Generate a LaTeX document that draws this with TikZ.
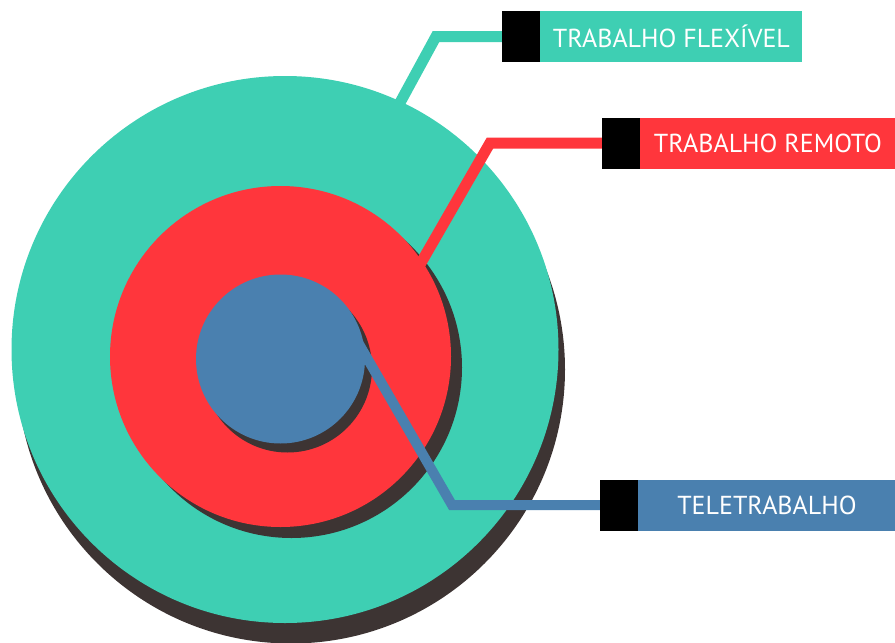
\documentclass[tikz,border=0pt]{standalone}
\usepackage{fontspec}
\setmainfont{PT Sans}
\usetikzlibrary{calc,positioning}
\definecolor{FlexTeal}{HTML}{3ECFB3}
\definecolor{RemotoRed}{HTML}{FF363C}
\definecolor{TeleBlue}{HTML}{4A80AF}
\definecolor{RingShadow}{HTML}{3D3433}
\tikzset{
  ring/.style={
    circle,
    draw=none,
    inner sep=0pt
  },
  ring shadow/.style={ring,fill=RingShadow},
  tag box/.style={
    fill=black,
    minimum width=38pt,
    minimum height=51pt,
    inner sep=0pt
  },
  label box/.style={
    text=white,
    minimum height=51pt,
    inner sep=0pt,
    font=\fontsize{26}{30}\selectfont
  },
  leader/.style={line width=11pt,line join=miter}
}
\begin{document}
\begin{tikzpicture}[x=1pt,y=-1pt]
  \useasboundingbox (0,0) rectangle (895,643);

  \node[ring shadow,minimum size=548pt] (flex shadow) at (291,369.5) {};
  \node[ring,fill=FlexTeal,minimum size=547pt] (flex) at (285,349.5) {};
  \node[ring shadow,minimum size=341pt] (remoto shadow) at (291.5,367.5) {};
  \node[ring,fill=RemotoRed,minimum size=341pt] (remoto) at (280.5,356.5) {};
  \node[ring shadow,minimum size=169pt] (tele shadow) at (287.5,368) {};
  \node[ring,fill=TeleBlue,minimum size=169pt] (tele) at (280.5,359) {};

  \node[tag box] (flex tag) at (521,36.5) {};
  \node[label box,fill=FlexTeal,minimum width=262pt,right=0pt of flex tag] (flex label) {TRABALHO FLEXÍVEL};
  \node[tag box] (remoto tag) at (621,143) {};
  \node[label box,fill=RemotoRed,minimum width=255pt,right=0pt of remoto tag] (remoto label) {TRABALHO REMOTO};
  \node[tag box] (tele tag) at (619,505) {};
  \node[label box,fill=TeleBlue,minimum width=257pt,right=0pt of tele tag] (tele label) {TELETRABALHO};

  \coordinate (flex bend) at (436,36.5);
  \coordinate (remoto bend) at (490,143);
  \coordinate (tele bend) at (452,505);

  \draw[leader,draw=FlexTeal] ($(flex bend)!1.1!(flex.65)$) -- (flex bend) -- (flex tag.west);
  \draw[leader,draw=RemotoRed] ($(remoto bend)!1.1!(remoto.34)$) -- (remoto bend) -- (remoto tag.west);
  \draw[leader,draw=TeleBlue,line width=10pt] ($(tele bend)!1.1!(tele.3)$) -- (tele bend) -- (tele tag.west);
\end{tikzpicture}
\end{document}
